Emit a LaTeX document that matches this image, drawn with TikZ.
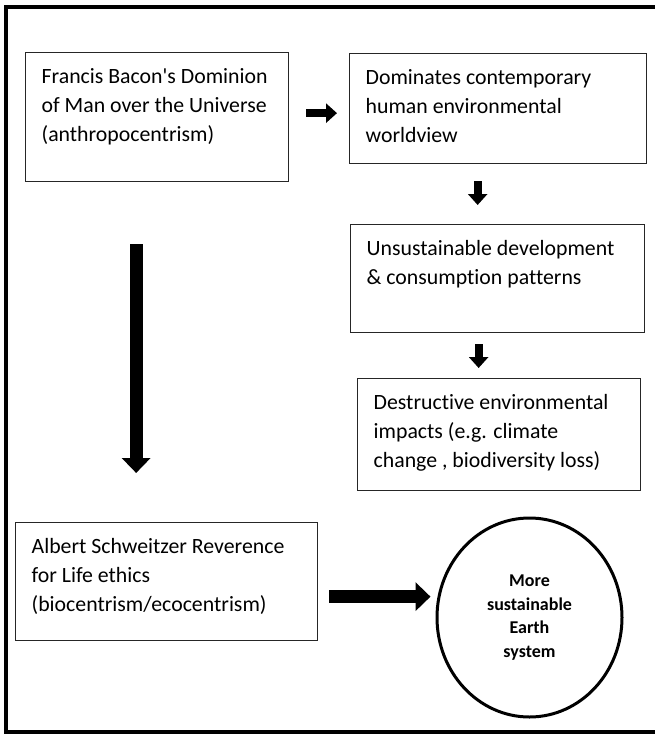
\documentclass[tikz,border=0pt]{standalone}
\usepackage{fontspec}
\setmainfont{Carlito}[Ligatures={NoCommon,TeXOff}]
\usetikzlibrary{arrows.meta,shapes.geometric}

% fixed-size box body, text set from the top left
\newcommand{\boxtext}[3]{\parbox[c][#2][t]{#1}{\raggedright\leftskip=16pt\rule{0pt}{31pt}#3}}

\begin{document}
\begin{tikzpicture}[
  x=1pt, y=-1pt,
  box/.style={draw=black!85, line width=1.3pt, inner sep=0pt, anchor=north west,
    font=\fontsize{21.8pt}{29pt}\selectfont},
  bubble/.style={ellipse, draw, line width=3pt, minimum width=185pt, minimum height=199pt,
    inner sep=0pt, align=center, font=\bfseries\fontsize{18pt}{23.5pt}\selectfont},
  arrow/.style={-{Triangle[width=19pt,length=11pt]}, line width=8pt},
  bigarrow/.style={-{Triangle[width=28pt,length=15pt]}, line width=13pt},
  frame/.style={line width=4pt}
]
\useasboundingbox (0,0) rectangle (654,738);

\draw[frame] (660,7) -- (6,7) -- (6,732) -- (660,732);

\node[box] (bacon) at (25,52)
  {\boxtext{263pt}{129pt}{Francis Bacon's Dominion\\of Man over the Universe\\(anthropocentrism)}};
\node[box] (dom) at (349,53)
  {\boxtext{297pt}{110pt}{Dominates contemporary\\human environmental\\worldview}};
\node[box] (unsust) at (350,224)
  {\boxtext{294pt}{108pt}{Unsustainable development\\\& consumption patterns}};
\node[box] (destr) at (357,378)
  {\boxtext{283pt}{112pt}{Destructive environmental\\impacts (e.g. climate\\change , biodiversity loss)}};
\node[box] (schw) at (15,522)
  {\boxtext{302pt}{118pt}{Albert Schweitzer Reverence\\for Life ethics\\(biocentrism/ecocentrism)}};
\node[bubble] (earth) at (529.5,617.5) {More\\sustainable\\Earth\\system};

\draw[arrow, shorten <=17pt, shorten >=12pt] ([yshift=4pt]bacon.east) -- ([yshift=4pt]bacon.east -| dom.west);
\draw[arrow, shorten <=17pt, shorten >=19pt] ([xshift=-20.5pt]dom.south) -- ([xshift=-20.5pt]dom.south |- unsust.north);
\draw[arrow, shorten <=11pt, shorten >=10pt] ([xshift=-19pt]unsust.south) -- ([xshift=-19pt]unsust.south |- destr.north);
\draw[bigarrow, shorten <=62pt, shorten >=49pt] ([xshift=-21pt]bacon.south) -- ([xshift=-21pt]bacon.south |- schw.north);
\draw[bigarrow, shorten <=11pt, shorten >=5pt] ([yshift=-15pt]schw.east) -- ([yshift=-15pt]schw.east -| earth.west);

\end{tikzpicture}
\end{document}
